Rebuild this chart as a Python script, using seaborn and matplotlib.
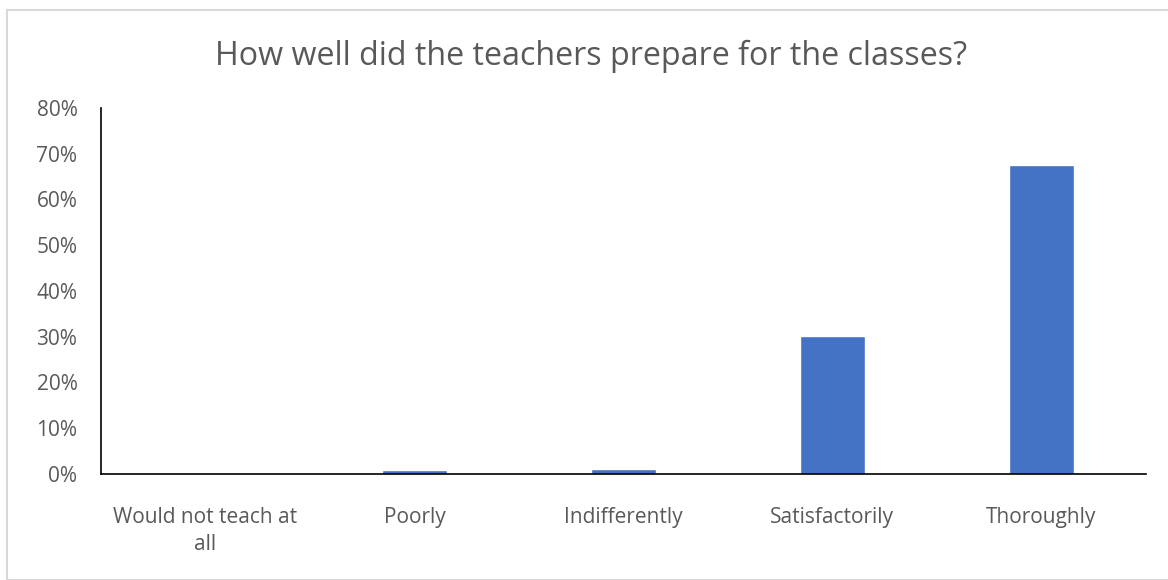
import seaborn as sns
import matplotlib.pyplot as plt
from matplotlib.ticker import FuncFormatter
from matplotlib.patches import Rectangle

# data
categories = ['Would not teach at\nall', 'Poorly', 'Indifferently', 'Satisfactorily', 'Thoroughly']
shares = [0.0, 0.8, 1.0, 30.1, 67.6]

sns.set_theme(style='white')
plt.rcParams['font.family'] = ['Open Sans', 'DejaVu Sans']

fig, ax = plt.subplots(figsize=(11.68, 5.8), dpi=100)
fig.subplots_adjust(left=0.0865, right=0.981, top=0.814, bottom=0.183)

sns.barplot(x=categories, y=shares, color='#4472C4', width=0.31, saturation=1, ax=ax)

ax.set_ylim(0, 80)
ax.set_yticks(range(0, 81, 10))
ax.yaxis.set_major_formatter(FuncFormatter(lambda v, _: f'{v:.0f}%'))
ax.tick_params(axis='both', colors='#595959', labelsize=15, length=0)
ax.tick_params(axis='y', pad=17)
ax.tick_params(axis='x', pad=24)
for lbl in ax.get_xticklabels():
    lbl.set_linespacing(1.35)
for side in ['top', 'right']:
    ax.spines[side].set_visible(False)
for side in ['left', 'bottom']:
    ax.spines[side].set_color('black')
    ax.spines[side].set_linewidth(1.2)
ax.set_xlabel('')
ax.set_ylabel('')

fig.suptitle('How well did the teachers prepare for the classes?', fontsize=23.2,
             color='#595959', x=0.506, y=0.902, va='center')

# light chart border
fig.patches.append(Rectangle((0.006, 0.0), 0.996, 0.983, transform=fig.transFigure,
                             fill=False, edgecolor='#D9D9D9', linewidth=1.5))

plt.savefig('out.png', dpi=100)
